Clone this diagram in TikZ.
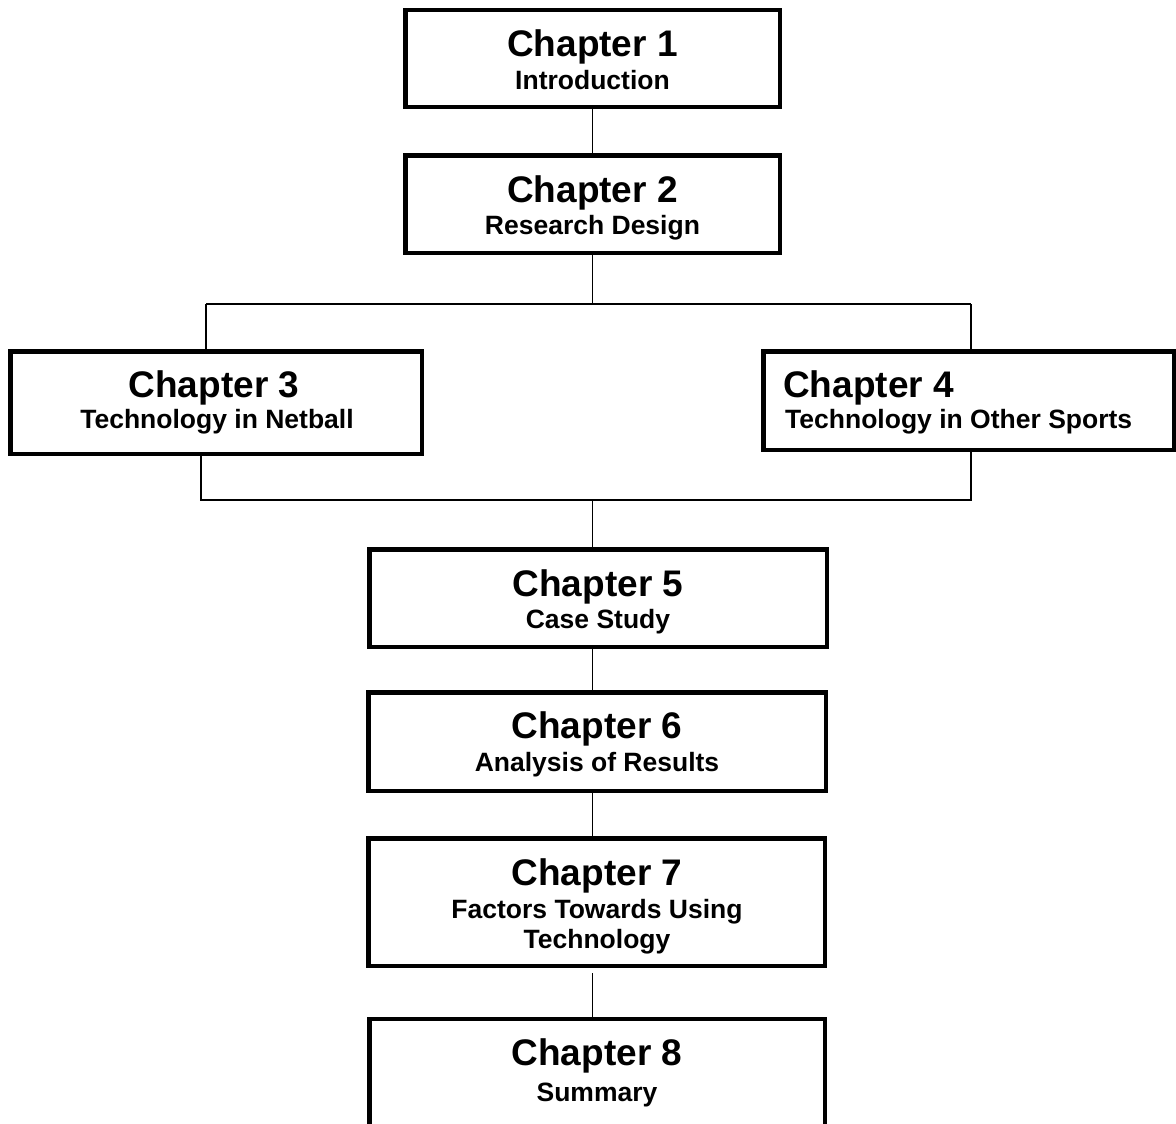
\documentclass[tikz,border=0pt]{standalone}
\usepackage{fontspec}
\setmainfont{Liberation Sans}
\begin{document}
\begin{tikzpicture}[x=1pt,y=-1pt,
  chapbox/.style={draw, line width=4.5pt, inner sep=0pt},
  link/.style={line width=1.3pt},
  head/.style={anchor=base, inner sep=0pt, font=\fontsize{37}{40}\selectfont\bfseries},
  subhead/.style={anchor=base, inner sep=0pt, font=\fontsize{26.5}{30}\selectfont\bfseries}]
\useasboundingbox[fill=white] (0,0) rectangle (1176,1124);

% chapter boxes
\node[chapbox, minimum width=374.5pt, minimum height=96.5pt]  (c1) at (592.5,58.5) {};
\node[chapbox, minimum width=374.5pt, minimum height=97.5pt]  (c2) at (592.5,204) {};
\node[chapbox, minimum width=411.5pt, minimum height=102.5pt] (c3) at (216,402.5) {};
\node[chapbox, minimum width=410.5pt, minimum height=98.5pt]  (c4) at (968.5,400.5) {};
\node[chapbox, minimum width=457.5pt, minimum height=97.5pt]  (c5) at (598,598) {};
\node[chapbox, minimum width=457.5pt, minimum height=98.5pt]  (c6) at (597,741.5) {};
\node[chapbox, minimum width=456.5pt, minimum height=127.5pt] (c7) at (596.5,902) {};
\node[chapbox, minimum width=455.5pt, minimum height=131pt]   (c8) at (597,1084.5) {};

% titles
\node[head] (h1) at (592.5,57) {Chapter 1};
\node[subhead] (s1) at (592.5,89.5) {Introduction};
\node[head] (h2) at (592.5,202) {Chapter 2};
\node[subhead] (s2) at (592.5,234) {Research Design};
\node[head] (h3) at (214,397) {Chapter 3};
\node[subhead] (s3) at (217,428) {Technology in Netball};
\node[head, anchor=base west] (h4) at (783,397) {Chapter 4};
\node[subhead, anchor=base west] (s4) at (785,428) {Technology in Other Sports};
\node[head] (h5) at (598,596) {Chapter 5};
\node[subhead] (s5) at (598,628) {Case Study};
\node[head] (h6) at (597,738) {Chapter 6};
\node[subhead] (s6) at (597,771) {Analysis of Results};
\node[head] (h7) at (597,885) {Chapter 7};
\node[subhead] (s7a) at (597,918) {Factors Towards Using};
\node[subhead] (s7b) at (597,948) {Technology};
\node[head] (h8) at (597,1065) {Chapter 8};
\node[subhead] (s8) at (597,1101) {Summary};

% connector points
\coordinate (spine) at (592.5,0);
\coordinate (busA)  at (592.5,304);
\coordinate (busAl) at (206,304);
\coordinate (busAr) at (971,304);
\coordinate (busB)  at (592.5,500);
\coordinate (busBl) at (201,500);
\coordinate (busBr) at (971,500);
\coordinate (gap7)  at (592.5,973);

% connectors
\draw[link] (c1.south -| spine) -- (c2.north -| spine);
\draw[link] (c2.south -| spine) -- (busA);
\draw[link] (busAl) -- (busAr);
\draw[link] (busAl) -- (busAl |- c3.north);
\draw[link] (busAr) -- (busAr |- c4.north);
\draw[link] (c3.south -| busBl) -- (busBl) -- (busBr) -- (c4.south -| busBr);
\draw[link] (busB) -- (c5.north -| spine);
\draw[link] (c5.south -| spine) -- (c6.north -| spine);
\draw[link] (c6.south -| spine) -- (c7.north -| spine);
\draw[link] (gap7) -- (c8.north -| spine);
\end{tikzpicture}
\end{document}
